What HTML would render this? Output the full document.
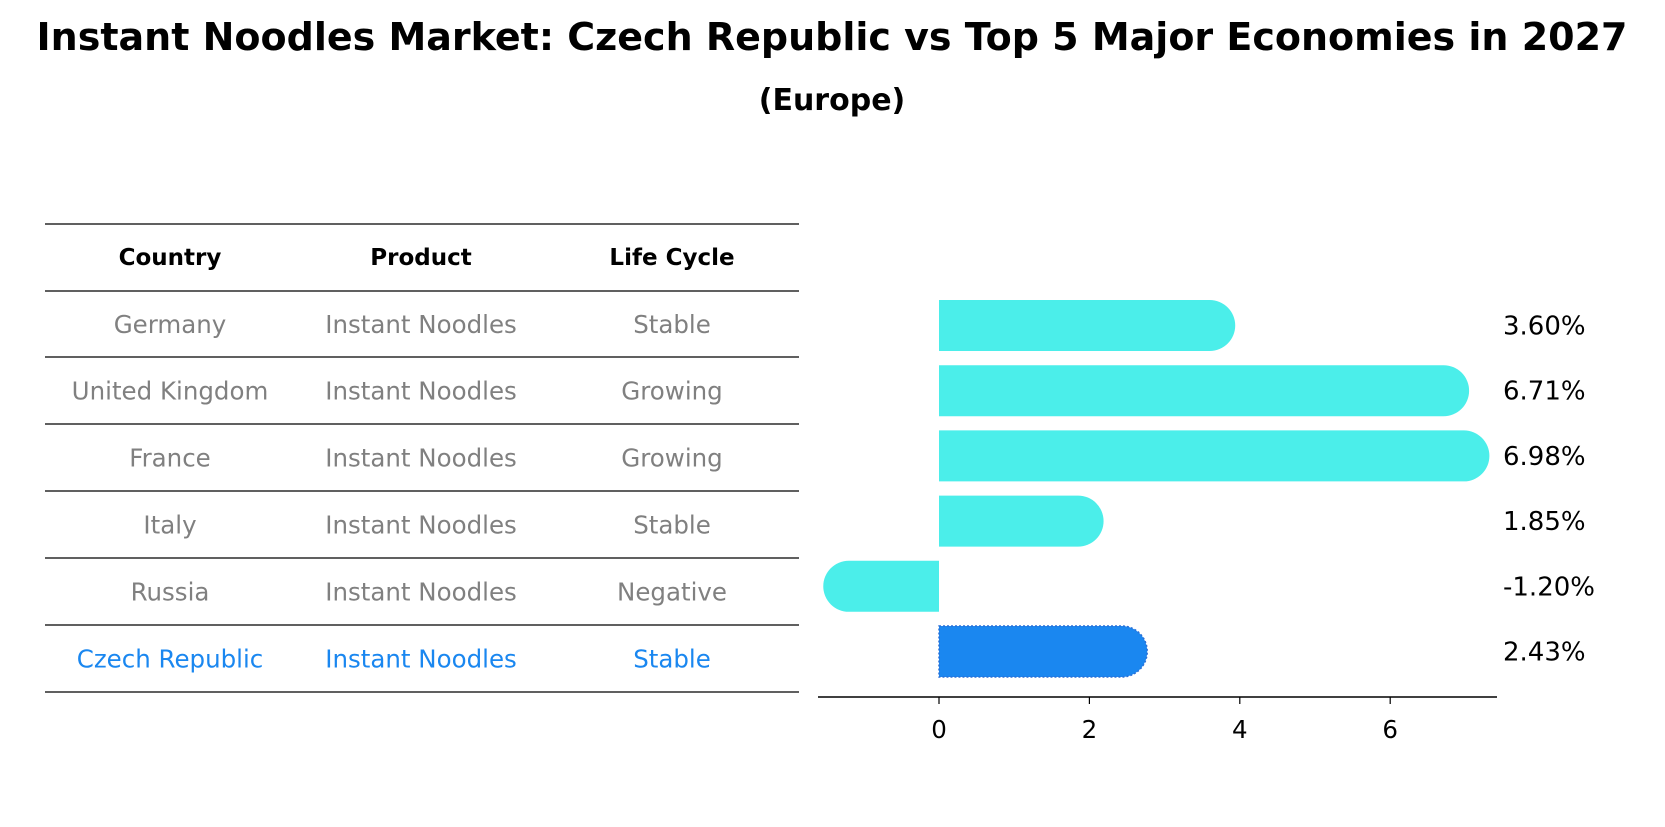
<!DOCTYPE html>
<html><head><meta charset="utf-8"><style>
body{margin:0;background:#fff;font-family:"DejaVu Sans","Liberation Sans",sans-serif;}
svg text{font-family:"DejaVu Sans","Liberation Sans",sans-serif;}
</style></head><body>
<svg id="c" width="1665" height="823" xmlns="http://www.w3.org/2000/svg">
<text x="832" y="50" text-anchor="middle" font-size="38" font-weight="bold">Instant Noodles Market: Czech Republic vs Top 5 Major Economies in 2027</text>
<text x="832" y="110" text-anchor="middle" font-size="30" font-weight="bold">(Europe)</text>
<g id="tbl"></g>
<g id="bars"></g>
</svg>
<script>
const countries=["Germany","United Kingdom","France","Italy","Russia","Czech Republic"];
const products=["Instant Noodles","Instant Noodles","Instant Noodles","Instant Noodles","Instant Noodles","Instant Noodles"];
const lifecycle=["Stable","Growing","Growing","Stable","Negative","Stable"];
const growth=[3.60,6.71,6.98,1.85,-1.20,2.43];
const ticks=[0,2,4,6];
const NS="http://www.w3.org/2000/svg";
function mk(t,a,p){const e=document.createElementNS(NS,t);for(const k in a)e.setAttribute(k,a[k]);p.appendChild(e);return e;}
const tbl=document.getElementById('tbl'),bars=document.getElementById('bars');
const lineYs=[224,291,357,424,491,558,625,692];
const colX=[170,421,672];
lineYs.forEach((y,i)=>{const l=mk('line',{x1:45,x2:799,y1:y,y2:y,stroke:'#000','stroke-width':1.2},tbl);

});
["Country","Product","Life Cycle"].forEach((h,i)=>{const t=mk('text',{x:colX[i],y:265,'text-anchor':'middle','font-size':23,'font-weight':'bold'},tbl);t.textContent=h;

});
countries.forEach((c,r)=>{const y=(lineYs[r+1]+lineYs[r+2])/2+9;const col=c==="Czech Republic"?'#1a87f0':'#808080';
[c,products[r],lifecycle[r]].forEach((v,i)=>{const t=mk('text',{x:colX[i],y:y,'text-anchor':'middle','font-size':24.5,fill:col},tbl);t.textContent=v;

});});
const x0=939,ppu=75.2;const X=v=>x0+v*ppu;
const barH=51,yTop=300,step=65.2;
const ax=mk('line',{x1:818,x2:1497,y1:697,y2:697,stroke:'#000','stroke-width':1.5},bars);


ticks.forEach(t=>{const l=mk('line',{x1:X(t),x2:X(t),y1:697,y2:704,stroke:'#000','stroke-width':1.2},bars);


const tx=mk('text',{x:X(t),y:738,'text-anchor':'middle','font-size':24.5},bars);tx.textContent=t;

});
growth.forEach((v,i)=>{const y=yTop+i*step,r=barH/2,cz=i===5;const col=cz?'#1a87f0':'#4beeea';
const a=X(0),b=X(v),d=v>=0?1:-1;
const p=`M${a},${y} L${b},${y} A${r},${r} 0 0 ${d>0?1:0} ${b},${y+barH} L${a},${y+barH} Z`;
const e=mk('path',{d:p,fill:col},bars);
if(cz){e.setAttribute('stroke','#2a6fd6');e.setAttribute('stroke-dasharray','2,2');e.setAttribute('stroke-width','1.5');}


const t=mk('text',{x:1503,y:y+r+9,'font-size':26},bars);t.textContent=v.toFixed(2)+'%';

});
</script>
</body></html>
